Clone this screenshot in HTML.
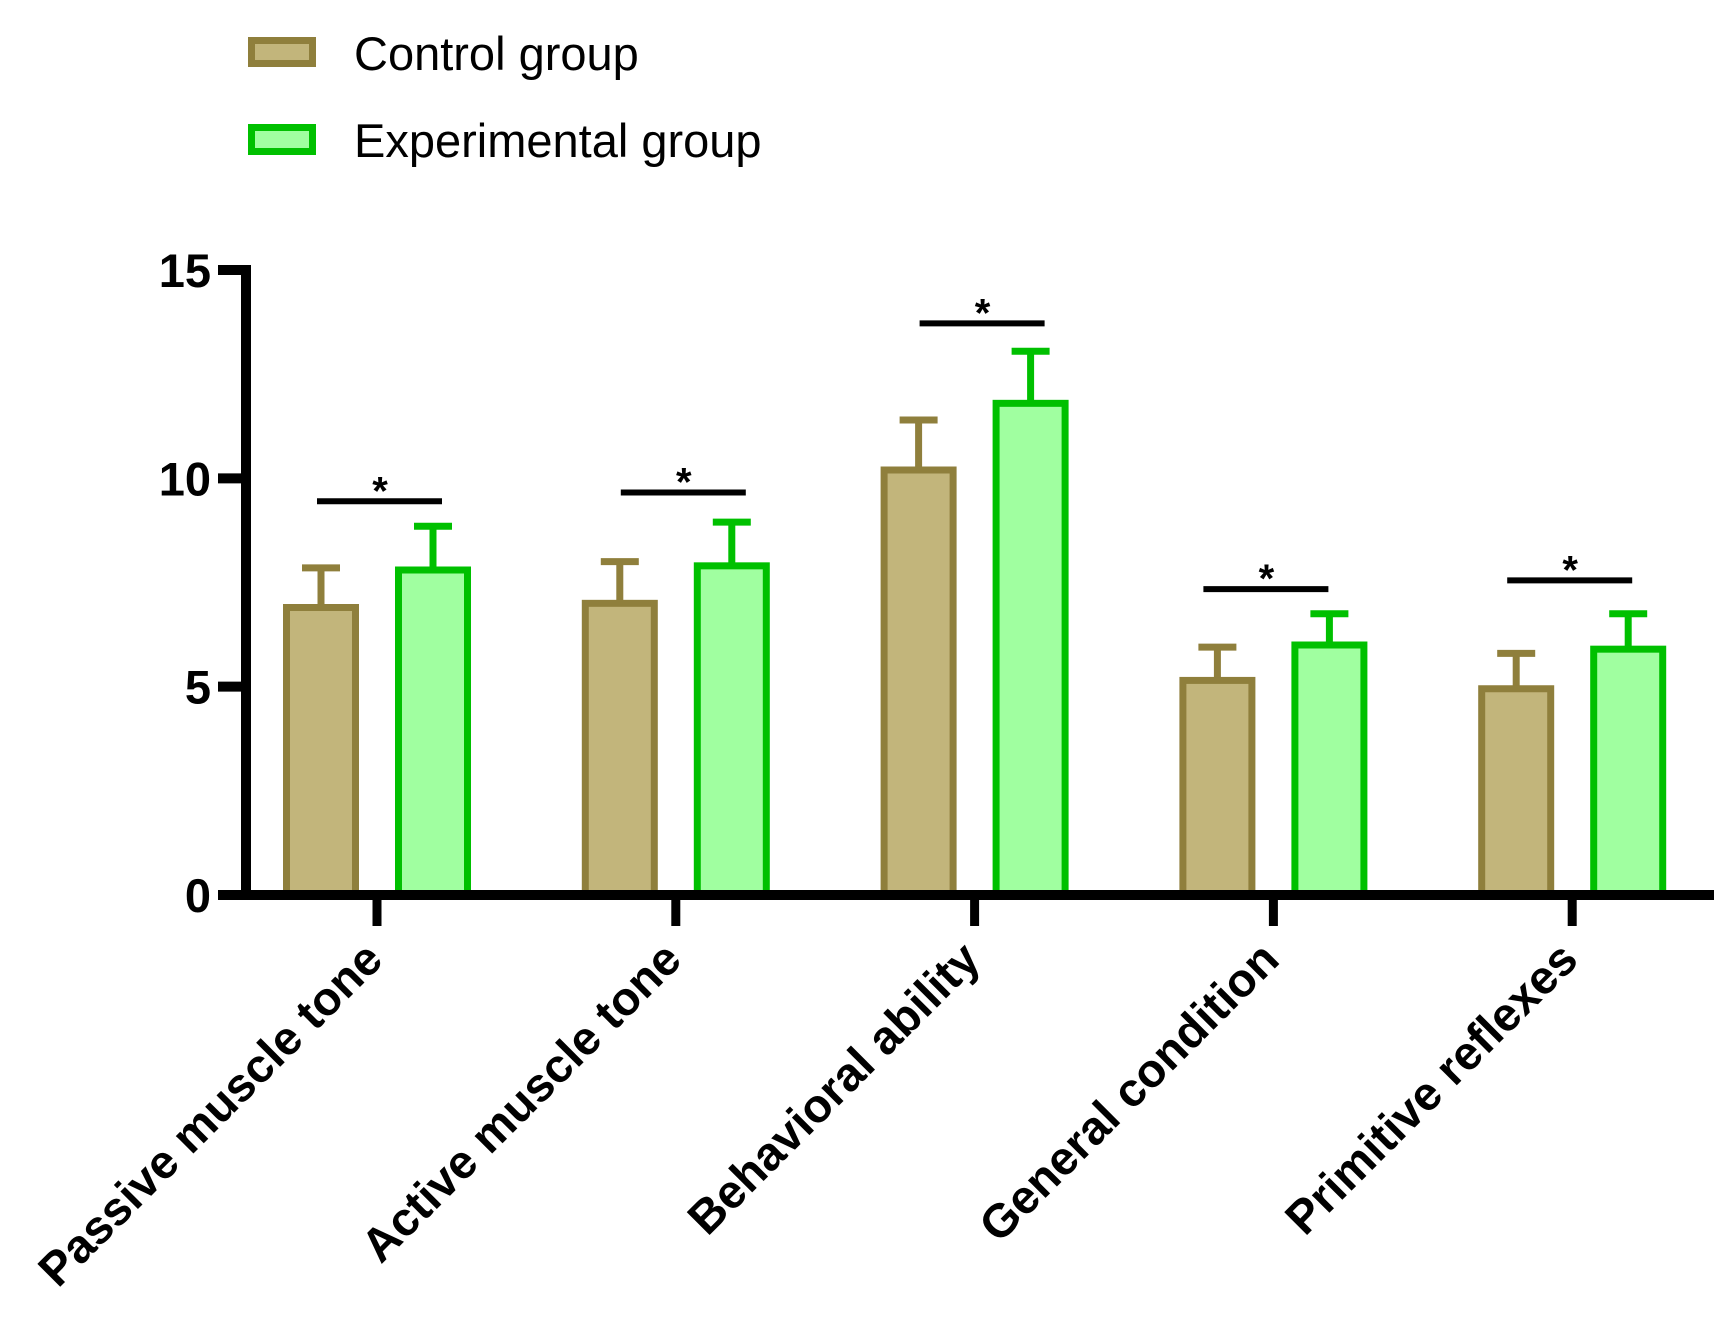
<!DOCTYPE html>
<html><head><meta charset="utf-8"><style>
html,body{margin:0;padding:0;background:#fff;width:1735px;height:1332px;overflow:hidden}
svg{display:block;font-family:"Liberation Sans",Arial,sans-serif}
</style></head><body>
<svg id="chart" width="1735" height="1332" viewBox="0 0 1735 1332" xmlns="http://www.w3.org/2000/svg">
<g>
<rect x="251.5" y="40.5" width="61" height="23" fill="#c2b57b" stroke="#8f7f3c" stroke-width="7"/>
<text x="354" y="70" font-size="47" fill="#000">Control group</text>
<rect x="251.5" y="127.5" width="61" height="24" fill="#a0ffa0" stroke="#00c000" stroke-width="7"/>
<text x="354" y="157" font-size="47" fill="#000">Experimental group</text>
</g>
<g id="plot"></g>
</svg>
<script>
const categories = ["Passive muscle tone","Active muscle tone","Behavioral ability","General condition","Primitive reflexes"];
const controlValues = [6.9, 7.0, 10.2, 5.15, 4.95];
const controlErrors = [0.95, 1.0, 1.2, 0.8, 0.85];
const expValues = [7.8, 7.9, 11.8, 6.0, 5.9];
const expErrors = [1.05, 1.05, 1.25, 0.75, 0.85];
const sigLevels = [9.45, 9.66, 13.72, 7.34, 7.55];
const yTicks = [0, 5, 10, 15];

const NS = "http://www.w3.org/2000/svg";
const g = document.getElementById("plot");
const y0 = 895, yTop = 270, axisX = 246;
const sigNudge = [2, 7, 7, -8, -3];
function yScale(v){ return y0 - (v/15)*(y0-yTop); }
function xCenter(i){ return 377 + i*298.8; }
function el(tag, attrs, parent){
  const e = document.createElementNS(NS, tag);
  for (const k in attrs) e.setAttribute(k, attrs[k]);
  (parent||g).appendChild(e); return e;
}
function bar(cx, v, err, fill, stroke, name){
  const w = 69, top = yScale(v), et = yScale(v+err);
  const r = el("rect", {x: cx-w/2, y: top, width: w, height: y0-top, fill: fill, stroke: stroke, "stroke-width": 7});
  
  
  const l = el("line", {x1: cx, x2: cx, y1: top-3, y2: et, stroke: stroke, "stroke-width": 7});
  
  
  const c = el("line", {x1: cx-19, x2: cx+19, y1: et, y2: et, stroke: stroke, "stroke-width": 7});
  
  
}
categories.forEach((cat, i) => {
  const cx = xCenter(i);
  bar(cx-56, controlValues[i], controlErrors[i], "#c2b57b", "#8f7f3c", "bar-control-" + i);
  bar(cx+56, expValues[i], expErrors[i], "#a0ffa0", "#00c000", "bar-experimental-" + i);
  const sy = yScale(sigLevels[i]);
  const sx = cx + sigNudge[i];
  const s = el("line", {x1: sx-62, x2: sx+63, y1: sy, y2: sy, stroke: "#000", "stroke-width": 6});
  
  
  const st = el("text", {x: sx+1, y: sy+3, "font-size": 40, "font-weight": "bold", "text-anchor": "middle", fill: "#000"});
  st.textContent = "*";
  
  
  const t = el("line", {x1: cx, x2: cx, y1: y0, y2: 926, stroke: "#000", "stroke-width": 9});
  
  
  const lbl = el("text", {x: cx+8, y: 962, "font-size": 47, "font-weight": "bold", "text-anchor": "end", fill: "#000", transform: `rotate(-45 ${cx+8} 962)`});
  lbl.textContent = cat;
  
  
});
const ya = el("line", {x1: axisX, x2: axisX, y1: yTop-5, y2: y0+5, stroke: "#000", "stroke-width": 10});


const xa = el("line", {x1: 218, x2: 1714, y1: y0, y2: y0, stroke: "#000", "stroke-width": 10});


yTicks.forEach(v => {
  const y = yScale(v);
  const t = el("line", {x1: 218, x2: axisX, y1: y, y2: y, stroke: "#000", "stroke-width": 10});
  
  
  const l = el("text", {x: 211, y: y+17, "font-size": 47, "font-weight": "bold", "text-anchor": "end", fill: "#000"});
  l.textContent = v;
  
  
});
</script>
</body></html>
